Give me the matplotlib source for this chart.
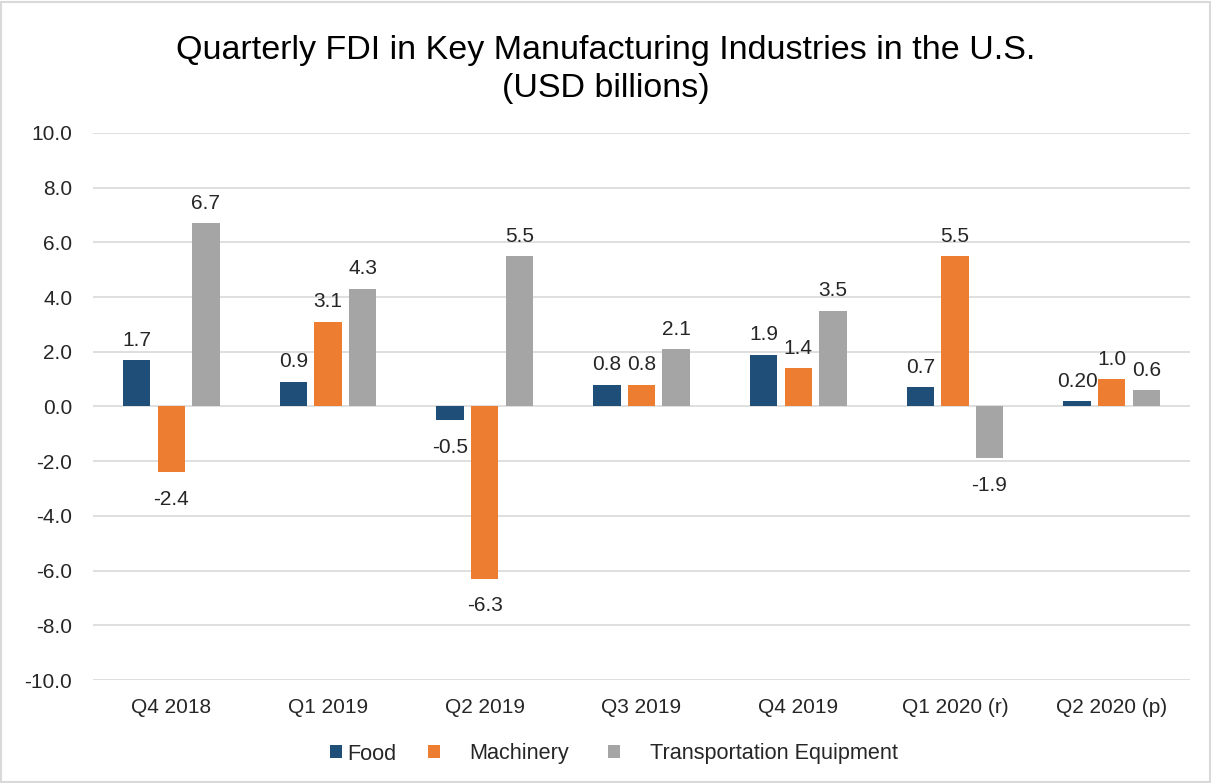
import matplotlib
matplotlib.use("Agg")
import matplotlib.pyplot as plt
import numpy as np
from matplotlib.patches import Rectangle

categories = ["Q4 2018", "Q1 2019", "Q2 2019", "Q3 2019", "Q4 2019", "Q1 2020 (r)", "Q2 2020 (p)"]
food = [1.7, 0.9, -0.5, 0.8, 1.9, 0.7, 0.2]
machinery = [-2.4, 3.1, -6.3, 0.8, 1.4, 5.5, 1.0]
transport = [6.7, 4.3, 5.5, 2.1, 3.5, -1.9, 0.6]
food_labels = ["1.7", "0.9", "-0.5", "0.8", "1.9", "0.7", "0.20"]
mach_labels = ["-2.4", "3.1", "-6.3", "0.8", "1.4", "5.5", "1.0"]
trans_labels = ["6.7", "4.3", "5.5", "2.1", "3.5", "-1.9", "0.6"]
series_names = ["Food", "Machinery", "Transportation Equipment"]
colors = ["#1F4E79", "#ED7D31", "#A5A5A5"]

plt.rcParams['font.family'] = ['Liberation Sans', 'DejaVu Sans']

W, H = 1212, 783
fig = plt.figure(figsize=(W / 100, H / 100), dpi=100)
ax = fig.add_axes([93 / W, 1 - 680 / H, 1097 / W, (680 - 133) / H])

FS = 15
x = np.arange(len(categories))
w = 0.175
step = 0.221
series = [food, machinery, transport]
labels = [food_labels, mach_labels, trans_labels]
handles = []
for i, (vals, labs, c, n) in enumerate(zip(series, labels, colors, series_names)):
    pos = x + (i - 1) * step
    bars = ax.bar(pos, vals, width=w, color=c, label=n, zorder=3)
    handles.append(bars)
    for p, v, l in zip(pos, vals, labs):
        if v >= 0:
            ax.annotate(l, (p, v), xytext=(0, 7.5), textcoords="offset points",
                        ha="center", va="bottom", fontsize=FS, color="#262626")
        else:
            ax.annotate(l, (p, v), xytext=(0, -12.5), textcoords="offset points",
                        ha="center", va="top", fontsize=FS, color="#262626")

ax.set_xlim(-0.5, len(categories) - 0.5)
ax.set_ylim(-10, 10)
yt = np.arange(-10, 10.1, 2)
ax.set_yticks(yt)
ax.set_yticklabels([f"{t:.1f}" for t in yt])
ax.set_xticks(x)
ax.set_xticklabels(categories)
ax.tick_params(axis='both', length=0, labelsize=FS, colors="#262626")
ax.tick_params(axis='x', pad=13)
ax.tick_params(axis='y', pad=15)
ax.grid(axis='y', color="#D9D9D9", linewidth=1.2, zorder=0)
for s in ax.spines.values():
    s.set_visible(False)

fig.suptitle("Quarterly FDI in Key Manufacturing Industries in the U.S.\n(USD billions)",
             y=1 - 35 / H, va="top", fontsize=24.5, color="#000000", linespacing=1.3)

LFS = 15.6
leg1 = fig.legend(handles[:1], series_names[:1], loc="center left",
                  bbox_to_anchor=(330 / W, 1 - 754 / H), ncol=1, frameon=False,
                  fontsize=LFS, handlelength=0.56, handleheight=0.56, handletextpad=0.25,
                  borderpad=0, borderaxespad=0, labelcolor="#262626")
leg2 = fig.legend(handles[1:], series_names[1:], loc="center left",
                  bbox_to_anchor=(428 / W, 1 - 754 / H), ncol=2, frameon=False,
                  fontsize=LFS, handlelength=0.56, handleheight=0.56, handletextpad=1.35,
                  columnspacing=1.8, borderpad=0, borderaxespad=0, labelcolor="#262626")

fig.add_artist(Rectangle((0.001, 0.001), 0.997, 0.997, transform=fig.transFigure,
                         fill=False, edgecolor="#D9D9D9", linewidth=1.5))

fig.savefig("out.png", dpi=100)
